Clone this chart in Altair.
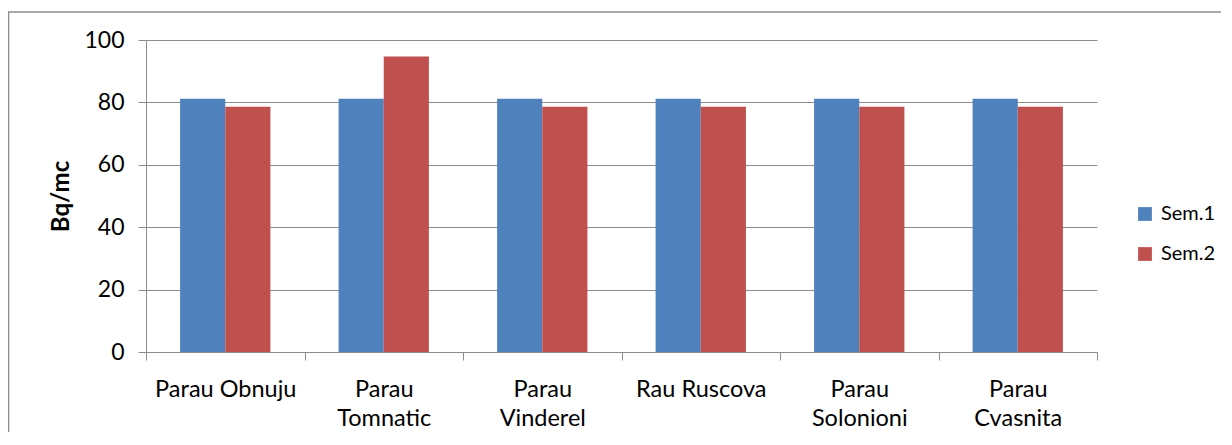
import altair as alt
import pandas as pd

categories = ["Parau Obnuju", "Parau Tomnatic", "Parau Vinderel", "Rau Ruscova", "Parau Solonioni", "Parau Cvasnita"]
sem1 = [81.2, 81.2, 81.2, 81.2, 81.2, 81.2]
sem2 = [78.6, 94.7, 78.6, 78.6, 78.6, 78.6]
series = ["Sem.1", "Sem.2"]
colors = ["#4F81BD", "#C0504D"]

rows = []
for c, a, b in zip(categories, sem1, sem2):
    rows.append({"loc": c, "sem": "Sem.1", "val": a})
    rows.append({"loc": c, "sem": "Sem.2", "val": b})
df = pd.DataFrame(rows)

W, H = 951, 312
FONT = "Lato"
GREY = "#8c8c8c"

bars = alt.Chart(df).mark_bar().encode(
    x=alt.X("loc:N", sort=categories, title=None,
            scale=alt.Scale(paddingInner=0, paddingOuter=0),
            axis=alt.Axis(labelAngle=0, tickBand="extent", tickSize=8, tickColor=GREY,
                          domainColor=GREY, labelFont=FONT, labelFontSize=23.5, labelColor="#000",
                          labelPadding=17, labelLineHeight=29, labelBaseline="top",
                          labelExpr="(datum.label == 'Parau Obnuju' || datum.label == 'Rau Ruscova') ? datum.label : split(datum.label, ' ')")),
    xOffset=alt.XOffset("sem:N", sort=series, scale=alt.Scale(paddingInner=0, paddingOuter=0.755)),
    y=alt.Y("val:Q", title="Bq/mc",
            scale=alt.Scale(domain=[0, 100], nice=False),
            axis=alt.Axis(values=[0, 20, 40, 60, 80, 100], tickSize=8, tickColor=GREY, domainColor=GREY,
                          gridColor=GREY, labelFont=FONT, labelFontSize=23, labelColor="#000",
                          labelPadding=14, titleFont=FONT, titleFontSize=24, titleFontWeight="bold",
                          titleColor="#000", titleX=-85, titleY=H / 2, titleAlign="center",
                          titleBaseline="middle", titleAngle=-90)),
    color=alt.Color("sem:N", sort=series, scale=alt.Scale(domain=series, range=colors),
                    legend=alt.Legend(title=None, orient="none", legendX=989, legendY=164,
                                      symbolType="square", symbolSize=190, symbolStrokeWidth=0,
                                      labelFont=FONT, labelFontSize=20, labelColor="#000",
                                      rowPadding=20, labelOffset=6)),
)

frame_df = pd.DataFrame({"a": [0]})
top_line = alt.Chart(frame_df).mark_rule(color=GREY, strokeWidth=1.5).encode(
    x=alt.value(-138), x2=alt.value(W + 200), y=alt.value(-28)
)
left_line = alt.Chart(frame_df).mark_rule(color=GREY, strokeWidth=1.5).encode(
    x=alt.value(-137.5), y=alt.value(-28), y2=alt.value(H + 200)
)

chart = alt.layer(top_line, left_line, bars).properties(
    width=W, height=H,
    autosize=alt.AutoSizeParams(type="none"),
    padding={"left": 138, "top": 32, "right": 124, "bottom": 80},
).configure_view(stroke=None)

chart.save("out.html", embed_options={"renderer": "svg", "actions": False})
